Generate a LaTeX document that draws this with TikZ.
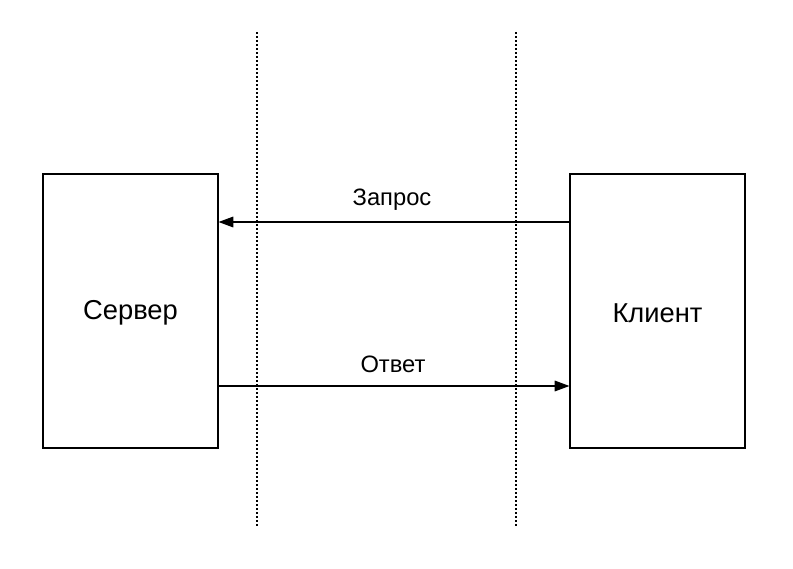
\documentclass[tikz,border=0pt]{standalone}
\usepackage{fontspec}
\setmainfont{Liberation Sans}
\usetikzlibrary{arrows.meta}
\begin{document}
\begin{tikzpicture}[x=0.75pt,y=-0.75pt,
  box/.style={draw,line width=0.9pt,minimum width=175*0.75pt,minimum height=274*0.75pt,inner sep=0pt,font=\fontsize{20.5}{24}\selectfont},
  lbl/.style={font=\fontsize{17.8}{21}\selectfont},
  sep/.style={line width=0.8pt,dash pattern=on 1.5pt off 1.5pt},
  msg/.style={line width=0.8pt,-{Triangle[length=11pt,width=8pt]}}]
\useasboundingbox (0,0) rectangle (793,568);
\node[box] (srv) at (130.5,311) {};
\node[box] (cli) at (657.5,311) {};
\node[font=\fontsize{20.5}{24}\selectfont] (srvt) at (130.5,313) {Сервер};
\node[font=\fontsize{20.5}{24}\selectfont] (clit) at (657.5,313) {Клиент};
\coordinate (d1t) at (257,32); \coordinate (d1b) at (257,528);
\coordinate (d2t) at (516,32); \coordinate (d2b) at (516,528);
\draw[sep] (d1t) -- (d1b);
\draw[sep] (d2t) -- (d2b);
\coordinate (qa) at (cli.west |- 0,222);
\coordinate (qb) at (srv.east |- 0,222);
\coordinate (oa) at (srv.east |- 0,386);
\coordinate (ob) at (cli.west |- 0,386);
\draw[msg] (qa) -- (qb);
\draw[msg] (oa) -- (ob);
\node[lbl] (lq) at (392,200) {Запрос};
\node[lbl] (lo) at (393,364) {Ответ};
\end{tikzpicture}
\end{document}
